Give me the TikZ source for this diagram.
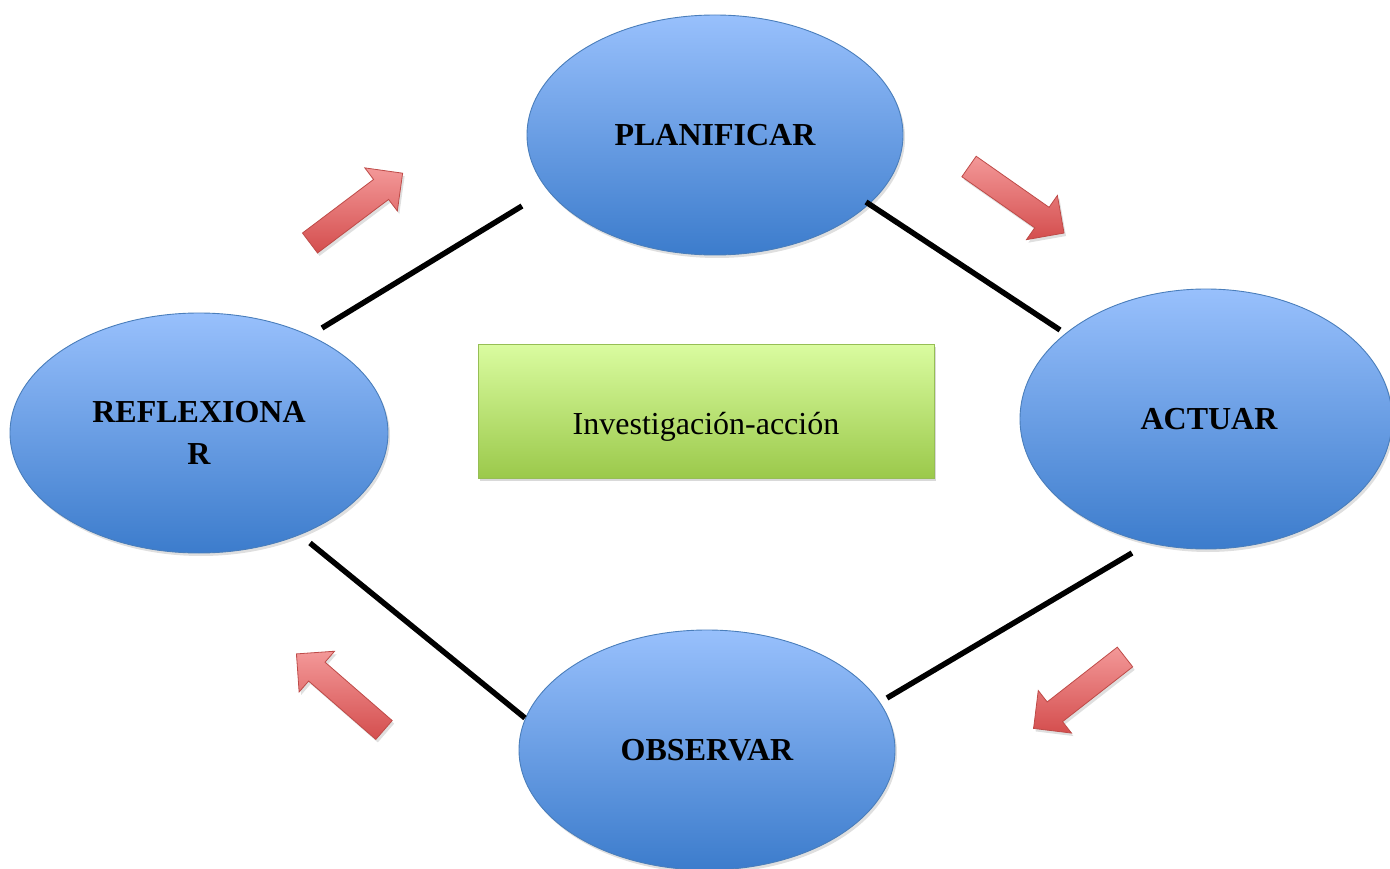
\documentclass[tikz,border=0pt]{standalone}
\usepackage{fontspec}
\setmainfont{Liberation Serif}
\usetikzlibrary{shapes.geometric,shadows}
\definecolor{elltop}{RGB}{152,192,252}
\definecolor{ellbot}{RGB}{60,124,204}
\definecolor{ellborder}{RGB}{74,126,187}
\definecolor{boxtop}{RGB}{218,252,160}
\definecolor{boxbot}{RGB}{155,201,75}
\definecolor{boxborder}{RGB}{150,190,85}
\definecolor{arrtop}{RGB}{243,152,152}
\definecolor{arrbot}{RGB}{212,78,78}
\definecolor{arrborder}{RGB}{190,75,72}
\newcommand{\cyclearrow}[3]{%
  \begin{scope}[shift={(#1,#2)},rotate=#3]
    \path[blockarrow] (0,-12.5) -- (89,-12.5) -- (89,-27) -- (116,0) -- (89,27) -- (89,12.5) -- (0,12.5) -- cycle;
  \end{scope}}
\begin{document}
\begin{tikzpicture}[x=1pt,y=-1pt,
  phase/.style={ellipse, draw=ellborder, line width=0.9pt, top color=elltop, bottom color=ellbot,
    inner sep=0pt, align=center, font=\fontsize{32}{42}\selectfont\bfseries,
    drop shadow={opacity=0.25, shadow xshift=2pt, shadow yshift=-3pt}},
  titlebox/.style={rectangle, draw=boxborder, line width=0.9pt, top color=boxtop, bottom color=boxbot,
    inner sep=0pt, font=\fontsize{32}{38}\selectfont,
    drop shadow={opacity=0.3, shadow xshift=2pt, shadow yshift=-3pt}},
  blockarrow/.style={draw=arrborder, line width=0.8pt, top color=arrtop, bottom color=arrbot,
    line join=miter, drop shadow={opacity=0.25, shadow xshift=2pt, shadow yshift=-3pt}},
  link/.style={draw=black, line width=5.5pt}]
\useasboundingbox (0,0) rectangle (1390,869);

% phases
\node[phase, minimum width=376pt, minimum height=240pt] (plan) at (715,135) {PLANIFICAR};
\node[phase, minimum width=372pt, minimum height=260pt] (act) at (1206,419) {\hspace*{6pt}ACTUAR};
\node[phase, minimum width=378pt, minimum height=240pt] (refl) at (199,433) {REFLEXIONA\\R};
\node[phase, minimum width=376pt, minimum height=240pt] (obs) at (707,750) {OBSERVAR};

% centre box
\node[titlebox, minimum width=456pt, minimum height=134pt] (ia) at (706,411)
  {\raisebox{-16pt}[\height][\depth]{Investigación-acción}};

% connector ends
\coordinate (pl-w) at (522,206);
\coordinate (re-n) at (322,328);
\coordinate (pl-e) at (866,202);
\coordinate (ac-n) at (1060,330);
\coordinate (ac-s) at (1132,553);
\coordinate (ob-e) at (887,698);
\coordinate (ob-w) at (525,718);
\coordinate (re-s) at (310,543);

\draw[link] (re-n) -- (pl-w);
\draw[link] (pl-e) -- (ac-n);
\draw[link] (ac-s) -- (ob-e);
\draw[link] (ob-w) -- (re-s);

% cycle arrows
\cyclearrow{310}{243}{37}
\cyclearrow{969}{166.5}{-35}
\cyclearrow{1125}{657}{218}
\cyclearrow{384}{730}{139}
\end{tikzpicture}
\end{document}
